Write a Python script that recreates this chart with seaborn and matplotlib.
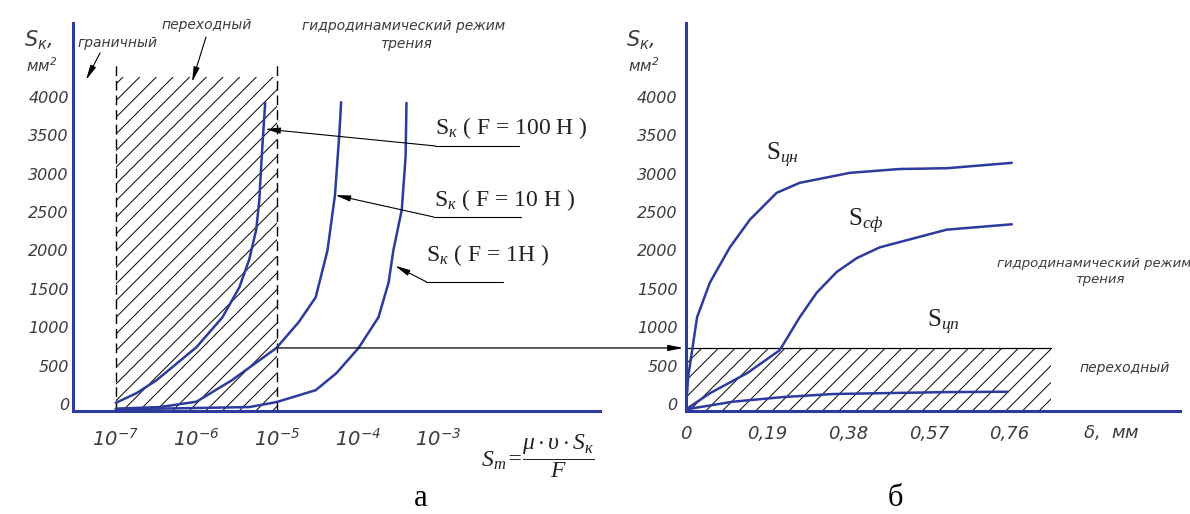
import numpy as np
import matplotlib
matplotlib.use("Agg")
import matplotlib.pyplot as plt
from matplotlib import font_manager
from matplotlib.patches import ConnectionPatch
import seaborn as sns

# --- data ---
# panel a: S_k (mm^2) vs S_m on a log scale, three loads
sm_f100 = [1.0e-7, 1.8e-7, 3.2e-7, 1.0e-6, 2.1e-6, 3.4e-6, 4.5e-6, 5.5e-6, 6.0e-6, 6.5e-6, 7.1e-6]
sk_f100 = [15, 140, 310, 740, 1130, 1520, 1880, 2270, 2650, 3300, 3920]
sm_f10 = [1.0e-7, 3.5e-7, 1.0e-6, 2.75e-6, 9.8e-6, 1.86e-5, 3.0e-5, 4.2e-5, 5.2e-5, 5.9e-5, 6.2e-5]
sk_f10 = [-60, -40, 30, 310, 730, 1070, 1390, 2000, 2720, 3530, 3930]
sm_f1 = [1.0e-7, 4.5e-6, 9.8e-6, 3.0e-5, 5.4e-5, 1.02e-4, 1.8e-4, 2.4e-4, 2.75e-4, 3.5e-4, 3.9e-4, 4.0e-4]
sk_f1 = [-70, -40, 25, 180, 400, 730, 1130, 1580, 2000, 2530, 3220, 3920]
left_ticks = [1e-7, 1e-6, 1e-5, 1e-4, 1e-3, 1e-2]
left_labels = [r"$\mathsf{10^{-7}}$", r"$\mathsf{10^{-6}}$", r"$\mathsf{10^{-5}}$",
               r"$\mathsf{10^{-4}}$", r"$\mathsf{10^{-3}}$", ""]

# panel b: S_k vs clearance delta (mm)
d_cn = [0, 0.005, 0.026, 0.056, 0.103, 0.150, 0.213, 0.267, 0.385, 0.502, 0.612, 0.765]
s_cn = [-60, 350, 1130, 1580, 2040, 2400, 2750, 2880, 3010, 3060, 3070, 3140]
d_sf = [0, 0.056, 0.143, 0.220, 0.267, 0.307, 0.354, 0.401, 0.455, 0.612, 0.765]
s_sf = [-70, 140, 400, 700, 1130, 1450, 1720, 1900, 2040, 2270, 2340]
d_cp = [0, 0.11, 0.227, 0.344, 0.502, 0.612, 0.755]
s_cp = [-70, 30, 90, 130, 145, 155, 160]
right_ticks = [0, 0.19, 0.38, 0.57, 0.76, 0.95]
right_labels = ["0", "0,19", "0,38", "0,57", "0,76", ""]

y_ticks = [0, 500, 1000, 1500, 2000, 2500, 3000, 3500, 4000]

# regimes
trans_lo, trans_hi = 1e-7, 1e-5      # transition band on panel a
trans_top = 4260
s_boundary = 730                     # S_k at S_m = 1e-5 for F = 10 H
d_hatch_end = 0.858

# --- style ---
sns.set_style("white")
names = {f.name for f in font_manager.fontManager.ttflist}
narrow = "Liberation Sans Narrow" if "Liberation Sans Narrow" in names else "DejaVu Sans"
serif = "Liberation Serif" if "Liberation Serif" in names else "DejaVu Serif"
plt.rcParams["font.family"] = [narrow, "DejaVu Sans"]
plt.rcParams["font.style"] = "italic"
plt.rcParams["mathtext.fontset"] = "custom"
plt.rcParams["mathtext.rm"] = serif
plt.rcParams["mathtext.it"] = serif + ":italic"
plt.rcParams["mathtext.sf"] = narrow + ":italic"
plt.rcParams["hatch.linewidth"] = 0.7

blue = "#2d3a9e"
grey = "#3c3c3c"
W, H = 1190, 514

fig = plt.figure(figsize=(W / 100, H / 100), dpi=100)


def box(x0, y0, x1, y1):
    return [x0 / W, 1 - y1 / H, (x1 - x0) / W, (y1 - y0) / H]


def ftext(px, py, s, **kw):
    kw.setdefault("ha", "center")
    kw.setdefault("va", "center")
    kw.setdefault("color", grey)
    fig.text(px / W, 1 - py / H, s, **kw)


ax1 = fig.add_axes(box(73, 23, 600, 411))
ax2 = fig.add_axes(box(686, 23, 1180, 411))

for ax in (ax1, ax2):
    sns.despine(ax=ax)
    for side in ("left", "bottom"):
        ax.spines[side].set_color(blue)
        ax.spines[side].set_linewidth(2.2)
    ax.set_ylim(-91, 4961)
    ax.set_yticks(y_ticks)
    ax.set_yticklabels([str(v) for v in y_ticks])
    ax.tick_params(axis="y", length=0, labelsize=11.5, labelcolor=grey, pad=3)
    ax.tick_params(axis="x", length=2, color=blue, labelsize=12, labelcolor=grey)
    ax.set_facecolor("none")

# panel a
ax1.set_xscale("log")
ax1.set_xlim(10 ** -7.53, 10 ** -1.0)
ax1.set_xticks(left_ticks)
ax1.set_xticklabels(left_labels, fontsize=14)
ax1.minorticks_off()
ax1.tick_params(axis="x", pad=10)

ax1.fill_between([trans_lo, trans_hi], -91, trans_top, facecolor="none",
                 edgecolor="black", hatch="//", linewidth=0)
ax1.vlines([trans_lo, trans_hi], -91, 4420, colors="black", lw=1,
           linestyles=(0, (7, 3.5)))

for xs, ys in ((sm_f100, sk_f100), (sm_f10, sk_f10), (sm_f1, sk_f1)):
    sns.lineplot(x=xs, y=ys, ax=ax1, color=blue, lw=1.8, estimator=None, sort=False)

arrow = dict(arrowstyle="-|>,head_length=0.9,head_width=0.18", color="black", lw=0.8,
             shrinkA=0, shrinkB=0)
labels_a = [
    (r"S$_{к}$ ( F = 100 H )", 10 ** -3.04, 3590, 10 ** -3.04, 10 ** -2.0, 3360, 10 ** -5.15, 3580),
    (r"S$_{к}$ ( F = 10 H )", 10 ** -3.06, 2650, 10 ** -3.06, 10 ** -1.98, 2435, 10 ** -4.28, 2720),
    (r"S$_{к}$ ( F = 1H )", 10 ** -3.15, 1940, 10 ** -3.15, 10 ** -2.2, 1590, 10 ** -3.54, 1800),
]
for s, tx, ty, u0, u1, uy, ax_, ay_ in labels_a:
    ax1.text(tx, ty, s, family=serif, style="normal", fontsize=17, color="#222222",
             ha="left", va="center")
    ax1.plot([u0, u1], [uy, uy], color="black", lw=0.8)
    ax1.annotate("", xy=(ax_, ay_), xytext=(u0, uy), arrowprops=arrow)

# panel b
ax2.set_xlim(0, 1.16)
ax2.set_xticks(right_ticks)
ax2.set_xticklabels(right_labels, fontsize=13)
ax2.tick_params(axis="x", pad=8)
ax2.tick_params(axis="y", pad=6)

ax2.fill_between([0, d_hatch_end], -91, s_boundary, facecolor="none",
                 edgecolor="black", hatch="//", linewidth=0)
ax2.plot([0, d_hatch_end], [s_boundary, s_boundary], color="black", lw=0.9)

for xs, ys in ((d_cn, s_cn), (d_sf, s_sf), (d_cp, s_cp)):
    sns.lineplot(x=xs, y=ys, ax=ax2, color=blue, lw=1.8, estimator=None, sort=False)

con = ConnectionPatch(xyA=(trans_hi, s_boundary), coordsA=ax1.transData,
                      xyB=(-0.006, s_boundary), coordsB=ax2.transData,
                      arrowstyle="-|>,head_length=0.9,head_width=0.18",
                      color="black", lw=0.9, shrinkA=0, shrinkB=0)
fig.add_artist(con)

# annotations, regime names, axis titles
ftext(117, 43, "граничный", fontsize=10)
ftext(207, 25, "переходный", fontsize=10)
ftext(404, 26, "гидродинамический режим", fontsize=10)
ftext(406, 44, "трения", fontsize=10)
fig.add_artist(ConnectionPatch(xyA=(100 / W, 1 - 53 / H), xyB=(86 / W, 1 - 80 / H),
                               coordsA="figure fraction", coordsB="figure fraction",
                               arrowstyle="-|>,head_length=0.9,head_width=0.18",
                               color="black", lw=0.8))
fig.add_artist(ConnectionPatch(xyA=(206 / W, 1 - 37 / H), xyB=(192 / W, 1 - 82 / H),
                               coordsA="figure fraction", coordsB="figure fraction",
                               arrowstyle="-|>,head_length=0.9,head_width=0.18",
                               color="black", lw=0.8))

for x0 in (24, 626):
    ftext(x0, 40, r"$\mathsf{S_{к},}$", fontsize=15, ha="left")
    ftext(x0 + 2, 66, r"$\mathsf{мм^{2}}$", fontsize=11, ha="left")

ftext(538, 457, r"$\mathrm{S}_{т}\!=\!\dfrac{\mu\cdot\upsilon\cdot\mathrm{S}_{к}}{\mathrm{F}}$",
      fontsize=17, color="#222222")

ftext(782, 155, r"S$_{цн}$", family=serif, style="normal", fontsize=18, color="#222222")
ftext(866, 221, r"S$_{сф}$", family=serif, style="normal", fontsize=18, color="#222222")
ftext(943, 322, r"S$_{цп}$", family=serif, style="normal", fontsize=18, color="#222222")
ftext(1094, 263, "гидродинамический режим", fontsize=9.5)
ftext(1100, 280, "трения", fontsize=9.5)
ftext(1125, 368, "переходный", fontsize=10)
ftext(1111, 432, r"$\mathsf{\delta}$,  мм", fontsize=13)

ftext(421, 499, "а", family=serif, style="normal", fontsize=22, color="black")
ftext(895, 499, "б", family=serif, style="normal", fontsize=22, color="black")

fig.savefig("out.png", dpi=100)
